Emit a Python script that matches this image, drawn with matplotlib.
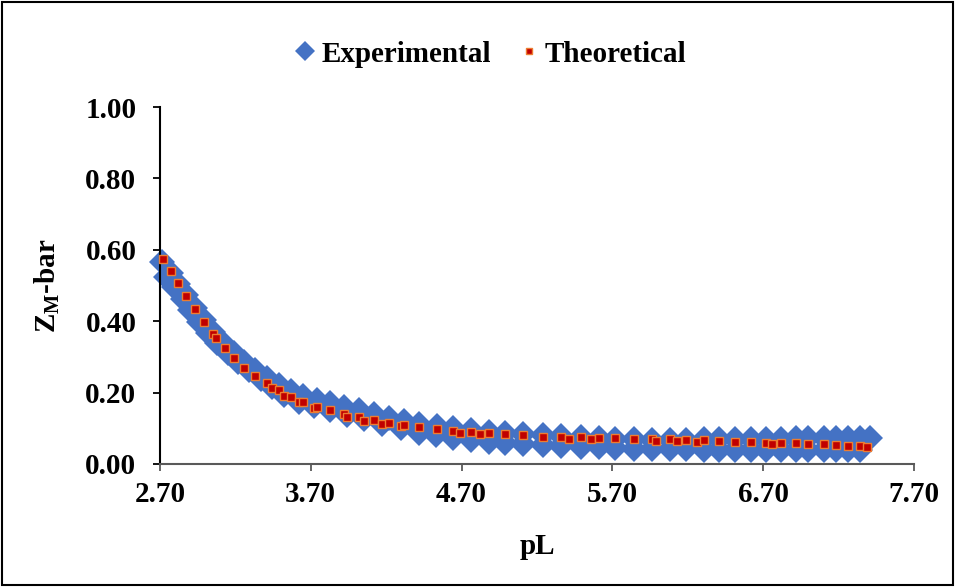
import numpy as np
import matplotlib
matplotlib.use("Agg")
from matplotlib import pyplot as plt
from matplotlib.patches import Rectangle

# data
exp_pL_1 = [2.71, 2.77, 2.82, 2.87, 2.93, 2.99, 3.05, 3.12, 3.19, 3.26, 3.33, 3.41, 3.49, 3.57,
            3.65, 3.74, 3.83, 3.92, 4.02, 4.12, 4.22, 4.32, 4.42, 4.54, 4.64, 4.76, 4.88, 4.99,
            5.11, 5.24, 5.36, 5.49, 5.61, 5.72, 5.84, 5.96, 6.08, 6.19, 6.31, 6.41, 6.51, 6.62,
            6.72, 6.82, 6.92, 7.00, 7.10, 7.18, 7.26, 7.34, 7.41]
exp_zm_1 = [0.565, 0.535, 0.505, 0.472, 0.437, 0.402, 0.370, 0.340, 0.312, 0.287, 0.262, 0.240,
            0.220, 0.204, 0.190, 0.180, 0.170, 0.160, 0.150, 0.140, 0.130, 0.121, 0.113, 0.106,
            0.100, 0.095, 0.090, 0.086, 0.083, 0.080, 0.078, 0.075, 0.073, 0.071, 0.069, 0.068,
            0.068, 0.068, 0.069, 0.069, 0.070, 0.070, 0.071, 0.071, 0.072, 0.072, 0.072, 0.073,
            0.073, 0.073, 0.073]

exp_pL_2 = [2.74, 2.79, 2.85, 2.90, 2.96, 3.02, 3.08, 3.15, 3.22, 3.29, 3.37, 3.44, 3.52, 3.62,
            3.72, 3.83, 3.94, 4.05, 4.17, 4.30, 4.42, 4.53, 4.64, 4.76, 4.88, 4.99, 5.11, 5.24,
            5.36, 5.49, 5.61, 5.72, 5.84, 5.96, 6.08, 6.19, 6.31, 6.41, 6.51, 6.62, 6.72, 6.82,
            6.92, 7.00, 7.10, 7.18, 7.26, 7.34]
exp_zm_2 = [0.525, 0.495, 0.462, 0.430, 0.398, 0.366, 0.338, 0.311, 0.287, 0.262, 0.238, 0.215,
            0.192, 0.175, 0.162, 0.150, 0.137, 0.125, 0.112, 0.100, 0.088, 0.080, 0.073, 0.067,
            0.062, 0.058, 0.055, 0.053, 0.051, 0.049, 0.047, 0.045, 0.043, 0.042, 0.041, 0.041,
            0.040, 0.040, 0.040, 0.040, 0.039, 0.039, 0.039, 0.039, 0.039, 0.039, 0.039, 0.039]

theo_pL = [2.72, 2.77, 2.82, 2.87, 2.93, 2.99, 3.05, 3.07, 3.13, 3.19, 3.26, 3.33, 3.41, 3.44,
           3.49, 3.52, 3.57, 3.62, 3.65, 3.72, 3.74, 3.83, 3.92, 3.94, 4.02, 4.05, 4.12, 4.17,
           4.22, 4.30, 4.32, 4.42, 4.54, 4.64, 4.69, 4.76, 4.82, 4.88, 4.99, 5.11, 5.24, 5.36,
           5.41, 5.49, 5.56, 5.61, 5.72, 5.84, 5.96, 5.99, 6.08, 6.13, 6.19, 6.26, 6.31, 6.41,
           6.51, 6.62, 6.72, 6.76, 6.82, 6.92, 7.00, 7.10, 7.18, 7.26, 7.34, 7.39]
theo_zm = [0.574, 0.541, 0.506, 0.471, 0.434, 0.398, 0.363, 0.354, 0.324, 0.296, 0.270, 0.246,
           0.226, 0.213, 0.207, 0.190, 0.189, 0.173, 0.175, 0.158, 0.160, 0.151, 0.140, 0.131,
           0.131, 0.121, 0.123, 0.111, 0.116, 0.106, 0.109, 0.104, 0.097, 0.093, 0.088, 0.091,
           0.084, 0.088, 0.083, 0.080, 0.077, 0.077, 0.069, 0.075, 0.069, 0.074, 0.072, 0.070,
           0.069, 0.065, 0.069, 0.064, 0.067, 0.062, 0.067, 0.064, 0.062, 0.062, 0.060, 0.056,
           0.060, 0.058, 0.056, 0.055, 0.052, 0.051, 0.050, 0.047]

x_ticks = [2.70, 3.70, 4.70, 5.70, 6.70, 7.70]
y_ticks = [0.00, 0.20, 0.40, 0.60, 0.80, 1.00]

plt.rcParams['font.family'] = ['Liberation Serif', 'DejaVu Serif']
plt.rcParams['font.weight'] = 'bold'
plt.rcParams['mathtext.fontset'] = 'custom'
plt.rcParams['mathtext.rm'] = 'Liberation Serif:bold'
plt.rcParams['mathtext.bf'] = 'Liberation Serif:bold'

fig = plt.figure(figsize=(9.56, 5.87), dpi=100)
ax = fig.add_axes([160 / 956, 1 - 464 / 587, (914 - 160) / 956, (464 - 107) / 587])

# experimental (both runs drawn as one series)
ax.plot(exp_pL_1 + exp_pL_2, exp_zm_1 + exp_zm_2, linestyle='none', marker='D',
        markersize=13, color='#4472C4', markeredgewidth=0, clip_on=False,
        label='Experimental', zorder=2)
ax.plot(theo_pL, theo_zm, linestyle='none', marker='s', markersize=6,
        markerfacecolor='#C00000', markeredgecolor='#ED7D31', markeredgewidth=1,
        clip_on=False, label='Theoretical', zorder=3)

ax.set_xlim(2.70, 7.70)
ax.set_ylim(0, 1.0)
ax.set_xticks(x_ticks)
ax.set_yticks(y_ticks)
ax.set_xticklabels(['%.2f' % v for v in x_ticks])
ax.set_yticklabels(['%.2f' % v for v in y_ticks])

for s in ['top', 'right']:
    ax.spines[s].set_visible(False)
ax.spines['left'].set_color('black')
ax.spines['left'].set_linewidth(1.5)
ax.spines['bottom'].set_color('#595959')
ax.spines['bottom'].set_linewidth(1.5)

ax.tick_params(axis='y', direction='out', length=5, width=1.3, color='black',
               pad=12, labelsize=21)
ax.tick_params(axis='x', direction='out', length=5, width=1.3, color='#595959',
               pad=7, labelsize=21)

ax.set_xlabel('pL', fontsize=21, fontweight='bold', labelpad=18)
ax.set_ylabel(r'$\mathrm{Z_M}$-bar', fontsize=21, fontweight='bold', labelpad=17)

leg = fig.legend(loc='center', bbox_to_anchor=(490 / 956, 1 - 54 / 587), ncol=2,
                 frameon=False, fontsize=21, handlelength=0.8, handletextpad=0.15,
                 columnspacing=0.9, markerscale=0.75)

# chart area border
fig.patches.append(Rectangle((0.002, 0.003), 0.995, 0.994, transform=fig.transFigure,
                             fill=False, edgecolor='black', linewidth=1.5))

fig.savefig('out.png', dpi=100)
